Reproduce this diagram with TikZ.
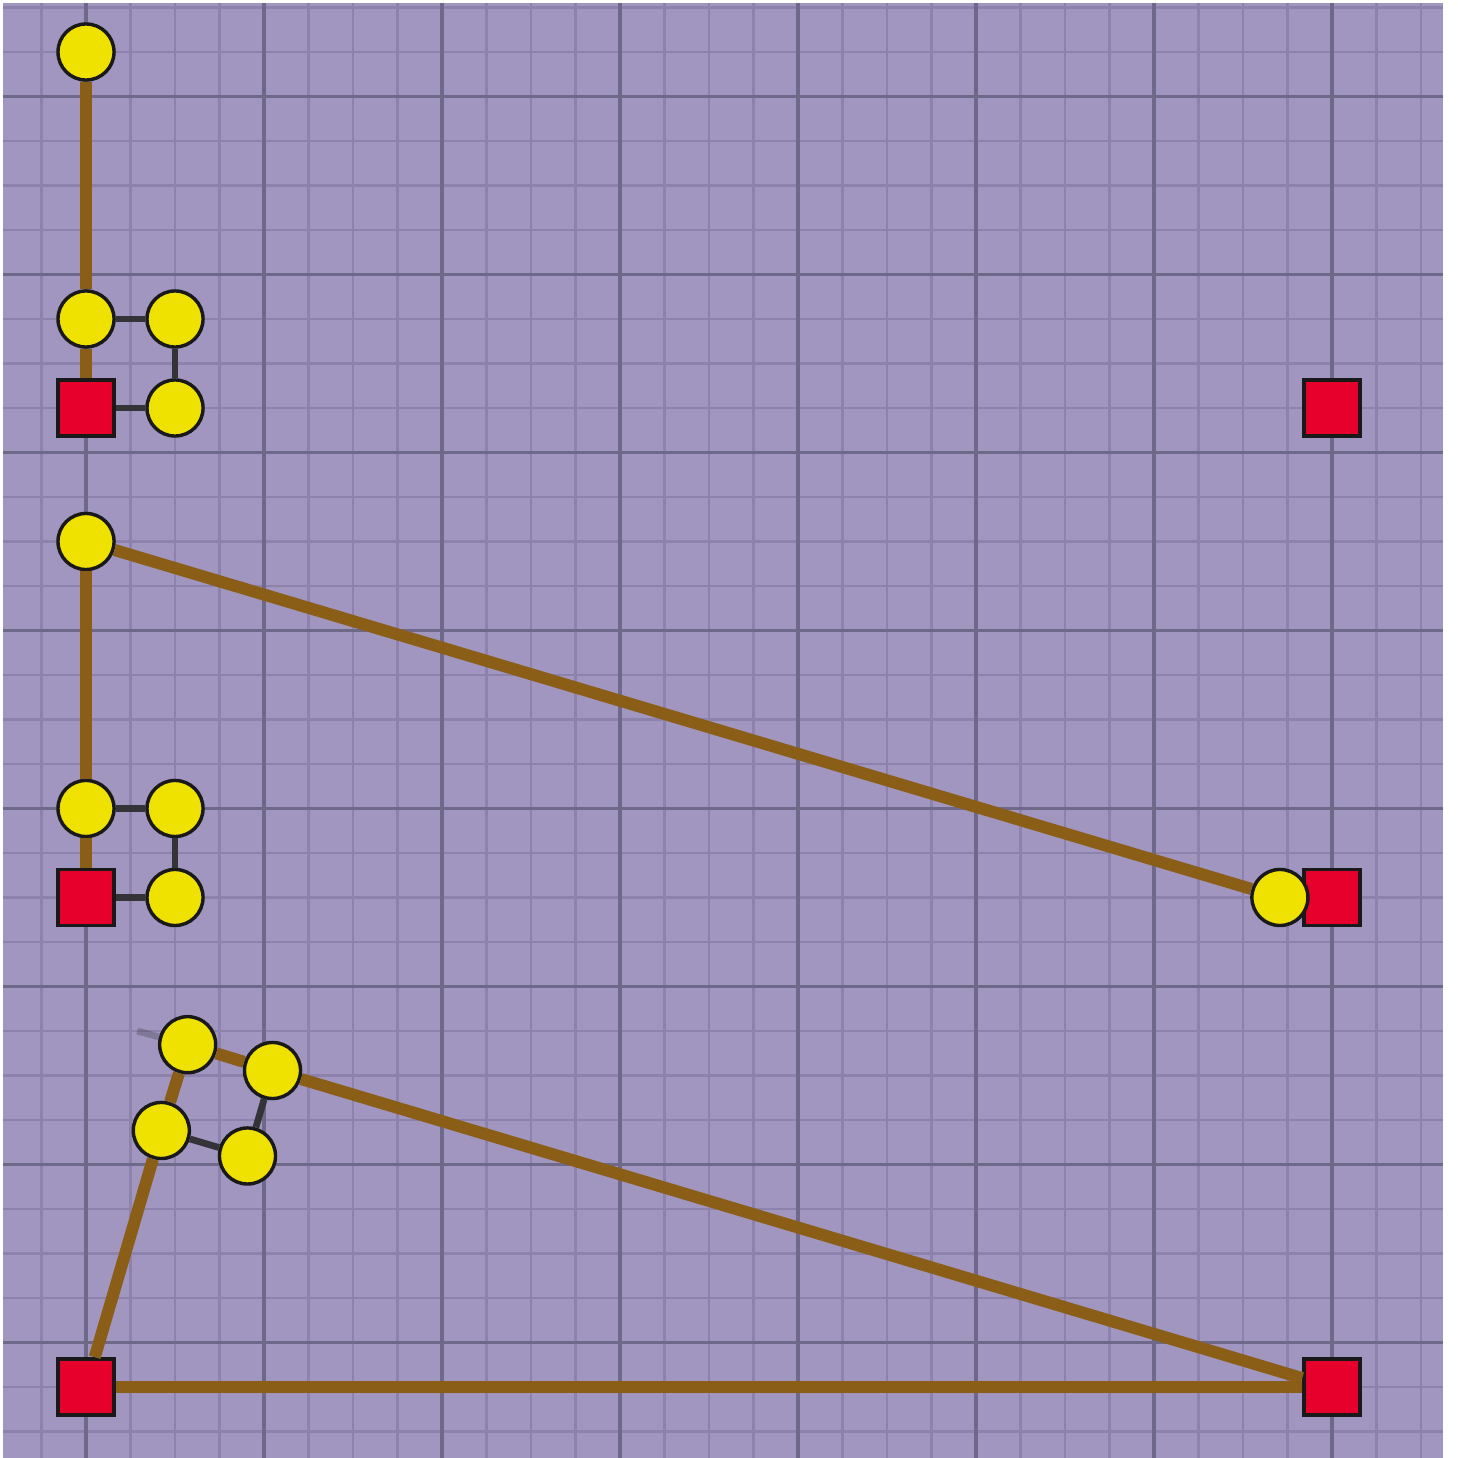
\documentclass[tikz,border=0pt]{standalone}
\usepackage{xcolor}
\usepackage{tikz}
\definecolor{jbg}{HTML}{A096C0}
\definecolor{jminor}{HTML}{8D82AC}
\definecolor{jmajor}{HTML}{6E6889}
\definecolor{jlink}{HTML}{8B5E18}
\definecolor{jbar}{HTML}{333338}
\definecolor{jball}{HTML}{F0E200}
\definecolor{jfix}{HTML}{E8002D}

\begin{document}
\begin{tikzpicture}[x=1cm, y=1cm,
  ball/.style={circle, draw=black!90, line width=2.2pt, fill=jball, minimum size=1.26cm, inner sep=0pt},
  fixbox/.style={rectangle, draw=black!90, line width=2.2pt, fill=jfix, minimum size=1.26cm, inner sep=0pt},
  link/.style={jlink, line width=7.7pt},
  bar/.style={jbar, line width=4.3pt}]
\useasboundingbox (-1.933,-1.596) rectangle (30.831,31.169);
% board
\fill[jbg] (-1.865,-1.596) rectangle (30.494,31.10);
\begin{scope}
\clip (-1.865,-1.596) rectangle (30.494,31.10);
\draw[jminor, line width=1.6pt] (-1.865,-1.596) grid (30.494,31.10);
\foreach \x in {0,4,...,28}
  \draw[jmajor, line width=2.2pt] (\x,-1.6) -- (\x,31.1);
\foreach \y in {1,5,...,29}
  \draw[jmajor, line width=2.2pt] (-1.9,\y) -- (30.5,\y);
\end{scope}
% fixed points
\node[fixbox] (fa) at (0,22) {};
\node[fixbox] (fb) at (28,22) {};
\node[fixbox] (fc) at (0,11) {};
\node[fixbox] (fd) at (28,11) {};
\node[fixbox] (fe) at (0,0) {};
\node[fixbox] (ff) at (28,0) {};
% upper chain
\node[ball] (ua) at (0,30) {};
\node[ball] (ub) at (0,24) {};
\node[ball] (uc) at (2,24) {};
\node[ball] (ud) at (2,22) {};
% middle chain
\node[ball] (ma) at (0,19) {};
\node[ball] (mb) at (0,13) {};
\node[ball] (mc) at (2,13) {};
\node[ball] (md) at (2,11) {};
\node[ball] (me) at (26.83,11) {};
% lower chain
\node[ball] (la) at (2.285,7.692) {};
\node[ball] (lb) at (4.191,7.112) {};
\node[ball] (lc) at (1.692,5.764) {};
\node[ball] (ld) at (3.629,5.191) {};
\coordinate (lt) at (1.15,8.0);
% links
\draw[link] (ua) -- (ub);
\draw[link] (ub) -- (fa);
\draw[bar] (ub) -- (uc);
\draw[bar] (uc) -- (ud);
\draw[bar] (ud) -- (fa);
\draw[link] (ma) -- (mb);
\draw[link] (mb) -- (fc);
\draw[link] (ma) -- (me);
\draw[bar] (mb) -- (mc);
\draw[bar] (mc) -- (md);
\draw[bar] (md) -- (fc);
\draw[link] (fe) -- (ff);
\draw[link] (fe) -- (lc);
\draw[link] (lc) -- (la);
\draw[link] (la) -- (lb);
\draw[link] (lb) -- (ff);
\draw[bar] (lc) -- (ld);
\draw[bar] (ld) -- (lb);
\draw[bar, opacity=0.3] (la) -- (lt);
\end{tikzpicture}
\end{document}
